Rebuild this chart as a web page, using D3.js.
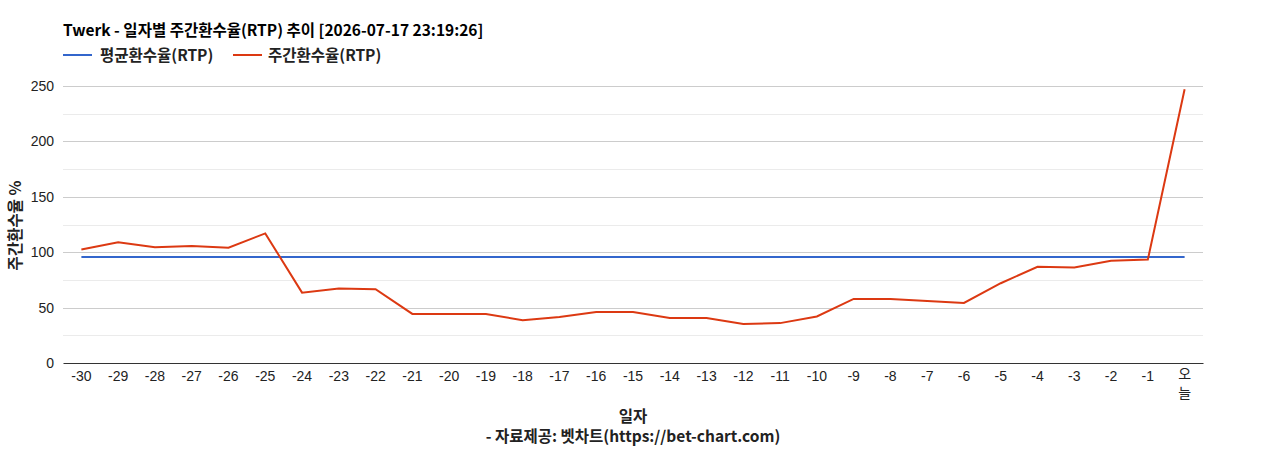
<!DOCTYPE html>
<html><head><meta charset="utf-8">
<script src="https://cdn.jsdelivr.net/npm/d3@7"></script>
<style>body{margin:0;background:#fff;}svg{display:block;font-family:"Liberation Sans",Arial,sans-serif;}</style>
</head><body><svg id="c" width="1268" height="450"></svg>
<script>
const categories = ["-30","-29","-28","-27","-26","-25","-24","-23","-22","-21","-20","-19","-18","-17","-16","-15","-14","-13","-12","-11","-10","-9","-8","-7","-6","-5","-4","-3","-2","-1","오늘"];
const weeklyRTP = [102.5,109,104.4,105.5,104,117,63.5,67.3,66.6,44.3,44.3,44.2,38.6,41.6,46,46,40.6,40.6,35.3,36,42,57.8,57.7,56,54.2,72,86.8,86.1,92.3,93.3,247];
const avgRTP = categories.map(() => 95.7);
const yTicks = [0,50,100,150,200,250];
const yMinor = [25,75,125,175,225];
const title = "Twerk - 일자별 주간환수율(RTP) 추이 [2026-07-17 23:19:26]";
const seriesNames = ["평균환수율(RTP)","주간환수율(RTP)"];
const colors = ["#3366cc","#dc3912"];

const svg = d3.select("#c");
const m = {l:63, r:1203, t:86, b:363};
const x = d3.scaleBand().domain(categories).range([m.l, m.r]).padding(0);
const y = d3.scaleLinear().domain([0,250]).range([m.b, m.t]);
const kr = '"Noto Sans CJK KR","Liberation Sans",sans-serif';
const lat = '"Liberation Sans",Arial,"Noto Sans CJK KR",sans-serif';

svg.append("g").selectAll("line").data(yMinor).join("line")
  .attr("x1", m.l).attr("x2", m.r).attr("y1", d=>Math.round(y(d))+0.5).attr("y2", d=>Math.round(y(d))+0.5)
  .attr("stroke","#ebebeb").attr("stroke-width",1);
svg.append("g").selectAll("line").data(yTicks.filter(d=>d>0)).join("line")
  .attr("x1", m.l).attr("x2", m.r).attr("y1", d=>Math.round(y(d))+0.5).attr("y2", d=>Math.round(y(d))+0.5)
  .attr("stroke","#cccccc").attr("stroke-width",1);

const ya = svg.append("g").attr("transform",`translate(${m.l},0)`)
  .call(d3.axisLeft(y).tickValues(yTicks).tickSize(0).tickPadding(9));
ya.select(".domain").remove();
ya.selectAll("text").attr("font-size",14).attr("fill","#222").attr("font-family",lat);

const xa = svg.append("g").attr("transform",`translate(0,${m.b})`)
  .call(d3.axisBottom(x).tickSize(0).tickPadding(8));
xa.select(".domain").attr("stroke","#333").attr("stroke-width",1.2);
xa.selectAll("text").attr("font-size",14).attr("fill","#222").attr("font-family",lat)
  .each(function(d){
    if (d === "오늘") {
      const t = d3.select(this); t.text(null).attr("font-family",kr).attr("font-size",14);
      t.append("tspan").attr("x",0).attr("dy","0.55em").text("오");
      t.append("tspan").attr("x",0).attr("dy","1.4em").text("늘");
      t.attr("dy",null);
    }
  });

const cx = d => x(d) + x.bandwidth()/2;
const line = d3.line().x((d,i)=>cx(categories[i])).y(d=>y(d));
svg.append("path").datum(avgRTP).attr("d",line).attr("fill","none").attr("stroke",colors[0]).attr("stroke-width",2);
svg.append("path").datum(weeklyRTP).attr("d",line).attr("fill","none").attr("stroke",colors[1]).attr("stroke-width",2);

const fs = 15.5;
svg.append("text").attr("x",63).attr("y",36).attr("font-size",fs).attr("font-weight","bold").attr("font-family",kr).attr("fill","#000").text(title);
const lg = [{x:63, tx:100},{x:233, tx:268}];
seriesNames.forEach((n,i)=>{
  svg.append("line").attr("x1",lg[i].x).attr("x2",lg[i].x+29).attr("y1",55).attr("y2",55).attr("stroke",colors[i]).attr("stroke-width",2);
  svg.append("text").attr("x",lg[i].tx).attr("y",60.5).attr("font-size",fs).attr("font-weight","bold").attr("font-family",kr).attr("fill","#222").text(n);
});
svg.append("text").attr("transform",`translate(21,${(m.t+m.b)/2+1}) rotate(-90)`).attr("text-anchor","middle")
  .attr("font-size",fs).attr("font-weight","bold").attr("font-family",kr).attr("fill","#222").text("주간환수율 %");
svg.append("text").attr("x",633).attr("y",422).attr("text-anchor","middle").attr("font-size",fs).attr("font-weight","bold").attr("font-family",kr).attr("fill","#222").text("일자");
svg.append("text").attr("x",633).attr("y",442).attr("text-anchor","middle").attr("font-size",fs).attr("font-weight","bold").attr("font-family",kr).attr("fill","#222").text("- 자료제공: 벳차트(https://bet-chart.com)");
</script></body></html>
